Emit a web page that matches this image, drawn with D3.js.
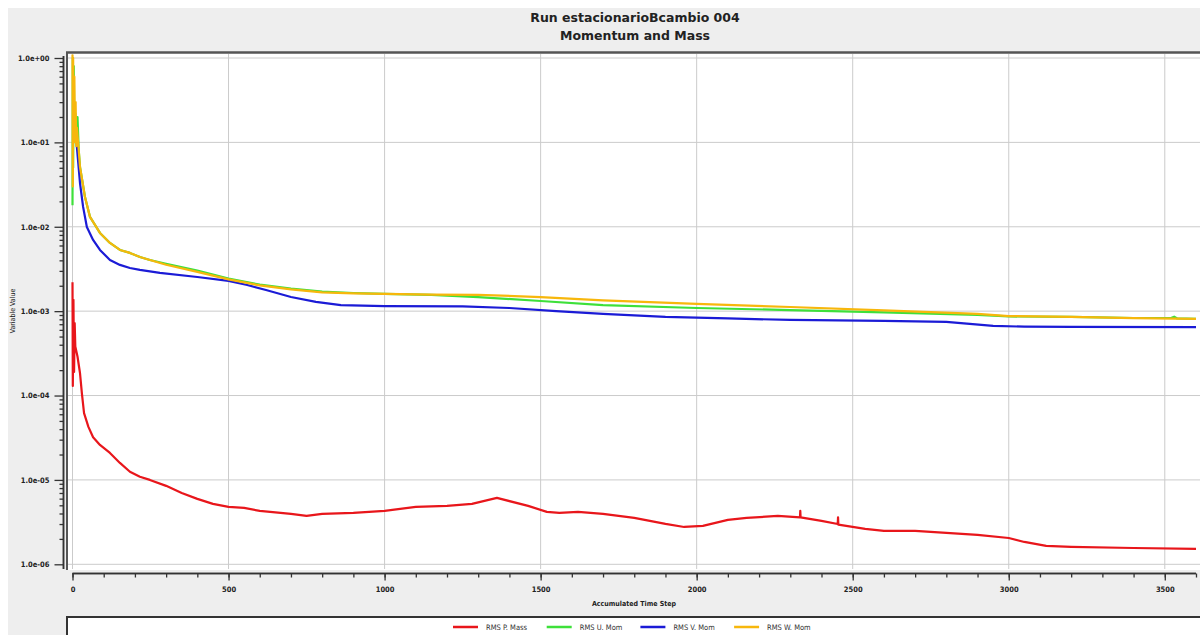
<!DOCTYPE html>
<html>
<head>
<meta charset="utf-8">
<script src="https://cdn.jsdelivr.net/npm/d3@7"></script>
<style>
  body { margin: 0; background: #fff; }
  svg { display: block; }
  .tick-label { font-family: "DejaVu Sans Condensed", "DejaVu Sans", sans-serif; font-size: 7.5px; font-weight: bold; fill: #222; }
</style>
</head>
<body>
<svg width="1200" height="635"></svg>
<script>

// chart data: [accumulated time step, value]
var titleLines = ["Run estacionarioBcambio 004", "Momentum and Mass"];
var seriesNames = ["RMS P. Mass", "RMS U. Mom", "RMS V. Mom", "RMS W. Mom"];
var seriesColors = ["#e8161b", "#3ee03a", "#1b1bd6", "#f7b70c"];

var rmsPMass = [[0,2.2e-3],[1,1.3e-4],[3,1.36e-3],[5,1.9e-4],[7,7.2e-4],[9,3.8e-4],[16,2.9e-4],[24,1.85e-4],
  [30,1.07e-4],[37,6.2e-5],[51,4.25e-5],[66,3.2e-5],[88,2.6e-5],[120,2.09e-5],[152,1.59e-5],[184,1.25e-5],
  [216,1.09e-5],[248,1.0e-5],[300,8.5e-6],[350,7.0e-6],[400,5.96e-6],[450,5.2e-6],[500,4.79e-6],[550,4.66e-6],
  [600,4.29e-6],[700,3.96e-6],[750,3.74e-6],[800,3.96e-6],[900,4.06e-6],[1000,4.29e-6],[1100,4.79e-6],
  [1200,4.92e-6],[1280,5.2e-6],[1360,6.12e-6],[1460,4.92e-6],[1520,4.18e-6],[1560,4.06e-6],[1620,4.18e-6],
  [1700,3.96e-6],[1800,3.55e-6],[1900,3.01e-6],[1960,2.77e-6],[2020,2.85e-6],[2100,3.36e-6],[2160,3.55e-6],
  [2260,3.74e-6],[2331,3.6e-6],[2332,4.3e-6],[2333,3.6e-6],[2400,3.27e-6],[2452,3.0e-6],[2453,3.6e-6],
  [2454,2.95e-6],[2540,2.63e-6],[2600,2.49e-6],[2700,2.49e-6],[2800,2.36e-6],[2900,2.23e-6],[3000,2.05e-6],
  [3050,1.84e-6],[3120,1.65e-6],[3200,1.61e-6],[3400,1.56e-6],[3600,1.52e-6]];

var rmsUMom = [[0,0.018],[1,1.0],[2,0.05],[4,0.8],[6,0.12],[9,0.22],[12,0.11],[16,0.2],[20,0.08],[24,0.0511],
  [40,0.0225],[56,0.0131],[88,0.00845],[120,0.00643],[152,0.00531],[184,0.0049],[216,0.00439],[248,0.00404],
  [300,0.00365],[400,0.00302],[500,0.00243],[600,0.00206],[700,0.00185],[800,0.0017],[900,0.00164],
  [1000,0.0016],[1150,0.00156],[1300,0.00147],[1500,0.00132],[1700,0.00118],[2000,0.00109],[2300,0.00103],
  [2600,0.000966],[2900,0.000902],[3000,0.000865],[3200,0.000855],[3400,0.00083],[3520,0.00083],
  [3530,0.00086],[3540,0.00082],[3600,0.00081]];

var rmsVMom = [[10,0.1],[13,0.098],[24,0.033],[34,0.0172],[46,0.00995],[66,0.00698],[88,0.00531],[120,0.00404],
  [152,0.00353],[184,0.00325],[216,0.00308],[280,0.00284],[400,0.00254],[500,0.00228],[560,0.00204],
  [620,0.00178],[700,0.00147],[780,0.00129],[860,0.00118],[1000,0.00115],[1250,0.00114],[1400,0.00109],
  [1550,0.001],[1700,0.000927],[1900,0.000854],[2100,0.00082],[2300,0.000787],[2600,0.000766],
  [2800,0.000745],[2950,0.000668],[3050,0.000655],[3200,0.00065],[3600,0.000648]];

var rmsWMom = [[0,1.1],[1,0.03],[2,1.0],[4,0.12],[6,0.6],[8,0.1],[10,0.3],[12,0.09],[14,0.15],[18,0.1],
  [24,0.0511],[40,0.0225],[56,0.0131],[88,0.00845],[120,0.00643],[152,0.00531],[184,0.0049],[216,0.00439],
  [248,0.00404],[300,0.00355],[400,0.00292],[500,0.00238],[600,0.00202],[700,0.00181],[800,0.00167],
  [900,0.00162],[1000,0.0016],[1150,0.00157],[1300,0.00156],[1500,0.00147],[1700,0.00134],[2000,0.00122],
  [2300,0.00112],[2600,0.00102],[2900,0.000927],[3000,0.000875],[3200,0.000855],[3400,0.000825],[3600,0.00081]];

var xMajorTicks = [0, 500, 1000, 1500, 2000, 2500, 3000, 3500];
var yMajorTicks = [1e-6, 1e-5, 1e-4, 1e-3, 1e-2, 1e-1, 1];
var yTickLabels = ["1.0e-06", "1.0e-05", "1.0e-04", "1.0e-03", "1.0e-02", "1.0e-01", "1.0e+00"];

var allSeries = [rmsPMass, rmsUMom, rmsVMom, rmsWMom];

// The svg
var svg = d3.select("svg");

// background panel
svg.append("rect")
  .attr("x", 8).attr("y", 8)
  .attr("width", 1192).attr("height", 627)
  .attr("fill", "#eeeeee");

// title
svg.append("g").selectAll("text")
  .data(titleLines)
  .enter().append("text")
  .attr("x", 635)
  .attr("y", function (d, i) { return 22 + i * 18; })
  .attr("text-anchor", "middle")
  .style("font-family", "DejaVu Sans, sans-serif")
  .style("font-size", "12.5px")
  .style("font-weight", "bold")
  .style("fill", "#222")
  .text(function (d) { return d; });

// scales
var x = d3.scaleLinear().domain([0, 3600]).range([72.5, 1196]);
var y = d3.scaleLog().domain([1e-6, 1]).range([564.3, 58]);

// plot area
svg.append("rect")
  .attr("x", 67).attr("y", 52)
  .attr("width", 1140).attr("height", 518)
  .attr("fill", "#fff");

svg.append("defs").append("clipPath").attr("id", "clip")
  .append("rect").attr("x", 68).attr("y", 54).attr("width", 1132).attr("height", 515);

// grid
var grid = svg.append("g");
grid.selectAll("line.gx")
  .data(xMajorTicks)
  .enter().append("line")
  .attr("x1", function (d) { return x(d); })
  .attr("x2", function (d) { return x(d); })
  .attr("y1", 54).attr("y2", 569)
  .attr("stroke", "#cbcbcb").attr("stroke-width", 1);
grid.selectAll("line.gy")
  .data(yMajorTicks)
  .enter().append("line")
  .attr("x1", 68).attr("x2", 1200)
  .attr("y1", function (d) { return y(d); })
  .attr("y2", function (d) { return y(d); })
  .attr("stroke", "#cbcbcb").attr("stroke-width", 1);

// frame lines
svg.append("line").attr("x1", 66).attr("x2", 1200).attr("y1", 52.5).attr("y2", 52.5)
  .attr("stroke", "#555").attr("stroke-width", 2.5);
svg.append("line").attr("x1", 67).attr("x2", 67).attr("y1", 52).attr("y2", 570)
  .attr("stroke", "#555").attr("stroke-width", 2);

// series
var line = d3.line()
  .x(function (d) { return x(d[0]); })
  .y(function (d) { return y(d[1]); });

svg.append("g")
  .attr("clip-path", "url(#clip)")
  .selectAll("path")
  .data(allSeries)
  .enter().append("path")
  .attr("d", line)
  .attr("fill", "none")
  .attr("stroke", function (d, i) { return seriesColors[i]; })
  .attr("stroke-width", 2.2)
  .attr("stroke-linejoin", "round");

// y axis
var yMinor = [];
yMajorTicks.slice(0, -1).forEach(function (d) {
  for (var k = 2; k < 10; k++) yMinor.push(d * k);
});

var yAxisG = svg.append("g").attr("transform", "translate(63.5,0)");
yAxisG.call(d3.axisLeft(y).tickValues(yMinor).tickSize(4).tickFormat(""));
yAxisG.append("g").call(d3.axisLeft(y).tickValues(yMajorTicks).tickSize(9)
  .tickFormat(function (d, i) { return yTickLabels[i]; }));
yAxisG.selectAll(".domain").attr("d", "M0,56V569").attr("stroke", "#333").attr("stroke-width", 1.5);
yAxisG.selectAll(".tick line").attr("stroke", "#333").attr("stroke-width", 1.3);
yAxisG.selectAll(".tick text").attr("class", "tick-label").attr("x", -14);

svg.append("text")
  .attr("transform", "translate(15,311) rotate(-90)")
  .attr("text-anchor", "middle")
  .style("font-family", "DejaVu Sans Condensed, sans-serif")
  .style("font-size", "7px")
  .style("fill", "#222")
  .text("Variable Value");

// x axis
var xAxisG = svg.append("g").attr("transform", "translate(0,573.5)");
xAxisG.call(d3.axisBottom(x).tickValues(d3.range(0, 3601, 100)).tickSize(4).tickFormat(""));
xAxisG.append("g").call(d3.axisBottom(x).tickValues(xMajorTicks).tickSize(7).tickFormat(d3.format("d")));
xAxisG.selectAll(".domain").attr("d", "M" + x(0) + ",0H" + x(3600)).attr("stroke", "#333").attr("stroke-width", 1.5);
xAxisG.selectAll(".tick line").attr("stroke", "#333").attr("stroke-width", 1.3);
xAxisG.selectAll(".tick text").attr("class", "tick-label").attr("y", 13);

svg.append("text")
  .attr("x", 634).attr("y", 606)
  .attr("text-anchor", "middle")
  .style("font-family", "DejaVu Sans Condensed, sans-serif")
  .style("font-size", "7px")
  .style("font-weight", "bold")
  .style("fill", "#222")
  .text("Accumulated Time Step");

// legend
svg.append("rect")
  .attr("x", 67).attr("y", 617)
  .attr("width", 1140).attr("height", 30)
  .attr("fill", "#fff")
  .attr("stroke", "#333").attr("stroke-width", 2);

var legend = svg.append("g").selectAll("g")
  .data(seriesNames)
  .enter().append("g")
  .attr("transform", function (d, i) { return "translate(" + (453 + i * 93.7) + ",627)"; });

legend.append("line")
  .attr("x1", 0).attr("x2", 25)
  .attr("stroke", function (d, i) { return seriesColors[i]; })
  .attr("stroke-width", 2.5);

legend.append("text")
  .attr("x", 33).attr("y", 3)
  .style("font-family", "DejaVu Sans Condensed, sans-serif")
  .style("font-size", "7.5px")
  .style("fill", "#333")
  .text(function (d) { return d; });

</script>
</body>
</html>
